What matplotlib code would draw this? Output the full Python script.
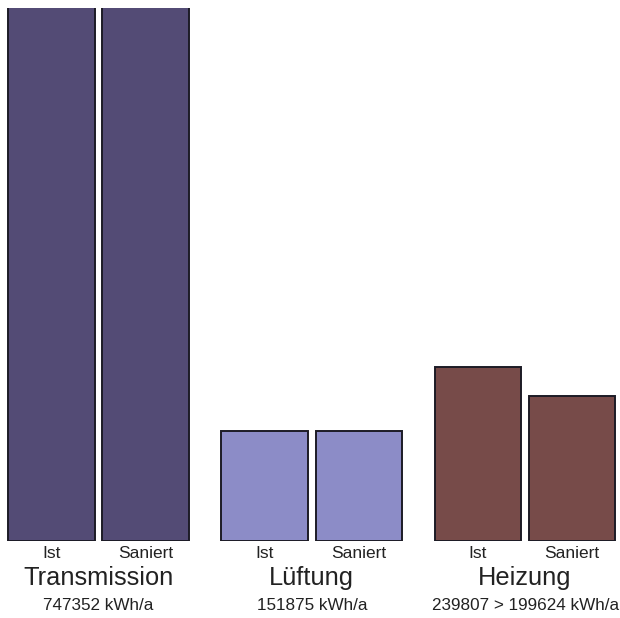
import matplotlib
matplotlib.use("Agg")
import matplotlib.pyplot as plt
import numpy as np

plt.rcParams['font.family'] = ['Liberation Sans', 'DejaVu Sans']

groups = ["Transmission", "Lüftung", "Heizung"]
states = ["Ist", "Saniert"]
ist_values = [747352, 151875, 239807]
saniert_values = [747352, 151875, 199624]
group_notes = ["747352 kWh/a", "151875 kWh/a", "239807 > 199624 kWh/a"]
colors = ["#534b75", "#8c8cc7", "#774b49"]

fig = plt.figure(figsize=(6.2, 6.18), dpi=100)
ax = fig.add_axes([0, 77 / 618, 1, 533 / 618])
ax.set_xlim(-0.462, 2.445)
ax.set_ylim(0, 734000)
ax.axis("off")

x = np.arange(len(groups))
offset = 0.221
width = 0.405
for vals, sign in ((ist_values, -1), (saniert_values, 1)):
    ax.bar(x + sign * offset, vals, width=width, color=colors,
           edgecolor="#1c1b26", linewidth=1.4)

for i, g in enumerate(groups):
    for sign, s in ((-1, states[0]), (1, states[1])):
        ax.annotate(s, (x[i] + sign * offset, 0), xytext=(0, -8.8),
                    textcoords="offset points", ha="center", va="center",
                    fontsize=12.5, color="#222222", annotation_clip=False)
    ax.annotate(g, (x[i], 0), xytext=(0, -26.5), textcoords="offset points",
                ha="center", va="center", fontsize=18.3, color="#222222",
                annotation_clip=False)
    ax.annotate(group_notes[i], (x[i], 0), xytext=(0, -46.5),
                textcoords="offset points", ha="center", va="center",
                fontsize=12.3, color="#222222", annotation_clip=False)

fig.savefig("out.png", dpi=100, facecolor="white")
